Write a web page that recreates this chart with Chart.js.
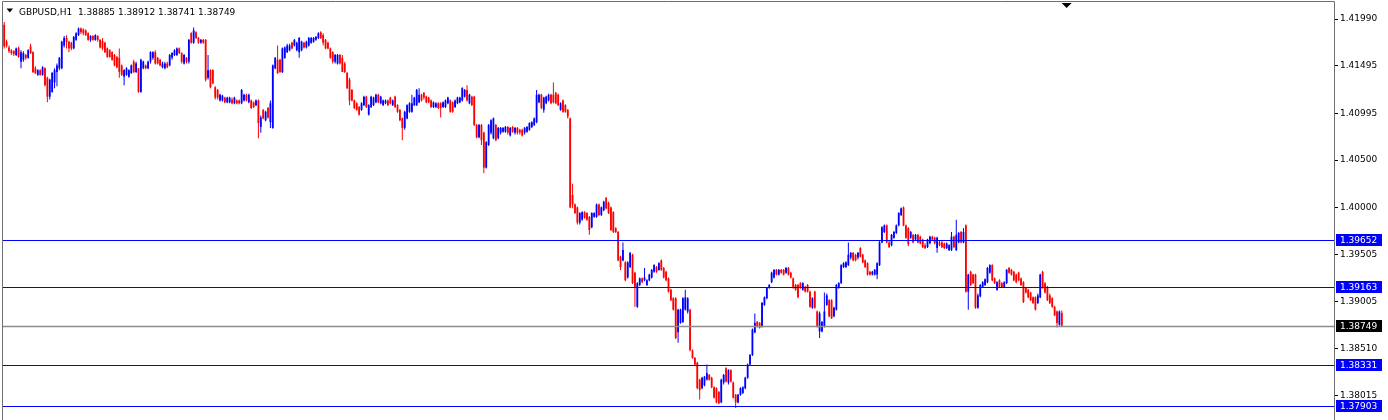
<!DOCTYPE html>
<html><head><meta charset="utf-8">
<script src="https://cdn.jsdelivr.net/npm/chart.js@4.4.0/dist/chart.umd.min.js"></script>
<style>html,body{margin:0;padding:0;background:#fff;overflow:hidden}#wrap{position:relative;width:1388px;height:420px}</style>
</head><body><div id="wrap"><canvas id="c"></canvas></div>
<script>
const symbol = 'GBPUSD,H1';
const opens = [
1.4193,1.4175,1.4169,1.4166,1.4165,1.4161,1.4168,1.4154,1.4156,1.4161,
1.4158,1.4170,1.4164,1.4147,1.4140,1.4145,1.4140,1.4147,1.4137,1.4117,
1.4122,1.4132,1.4143,1.4147,1.4147,1.4171,1.4179,1.4175,1.4174,1.4168,
1.4177,1.4182,1.4189,1.4188,1.4187,1.4184,1.4177,1.4181,1.4177,1.4181,
1.4177,1.4176,1.4174,1.4168,1.4166,1.4164,1.4161,1.4159,1.4158,1.4150,
1.4138,1.4140,1.4138,1.4142,1.4154,1.4143,1.4147,1.4122,1.4147,1.4150,
1.4147,1.4154,1.4158,1.4164,1.4158,1.4156,1.4148,1.4147,1.4152,1.4150,
1.4158,1.4161,1.4161,1.4168,1.4163,1.4152,1.4158,1.4154,1.4184,1.4174,
1.4185,1.4179,1.4174,1.4177,1.4177,1.4137,1.4145,1.4145,1.4127,1.4124,
1.4113,1.4113,1.4116,1.4111,1.4111,1.4114,1.4110,1.4113,1.4113,1.4110,
1.4113,1.4119,1.4111,1.4113,1.4111,1.4108,1.4113,1.4085,1.4103,1.4092,
1.4105,1.4090,1.4084,1.4147,1.4156,1.4156,1.4143,1.4158,1.4164,1.4166,
1.4174,1.4171,1.4166,1.4164,1.4166,1.4174,1.4169,1.4171,1.4174,
1.4175,1.4177,1.4179,1.4185,1.4182,1.4177,1.4174,1.4168,1.4164,1.4154,
1.4152,1.4161,1.4158,1.4152,1.4142,1.4135,1.4124,1.4113,1.4110,1.4106,
1.4103,1.4108,1.4117,1.4098,1.4106,1.4108,1.4111,1.4119,1.4110,1.4108,
1.4110,1.4113,1.4116,1.4108,1.4117,1.4108,1.4103,1.4094,1.4084,
1.4094,1.4101,1.4101,1.4108,1.4108,1.4111,1.4119,1.4121,1.4117,1.4116,
1.4113,1.4106,1.4106,1.4110,1.4110,1.4106,1.4106,1.4110,1.4113,
1.4111,1.4106,1.4110,1.4111,1.4113,1.4117,1.4124,1.4110,1.4117,1.4117,
1.4087,1.4074,1.4087,1.4079,1.4042,1.4066,1.4079,1.4073,1.4087,1.4073,
1.4079,1.4080,1.4080,1.4085,1.4076,1.4085,1.4079,1.4084,1.4082,
1.4082,1.4079,1.4080,1.4082,1.4085,1.4087,1.4090,1.4111,1.4119,
1.4103,1.4110,1.4113,1.4119,1.4119,1.4121,1.4119,1.4103,1.4113,
1.4108,1.4103,1.4094,1.4013,1.4003,1.4000,1.3984,1.3987,1.3995,1.3994,
1.3990,1.3979,1.3990,1.3990,1.4003,1.3992,1.3997,1.4010,1.4005,1.4000,
1.3995,1.3978,1.3974,1.3948,1.3944,1.3942,1.3926,1.3937,1.3950,
1.3931,1.3895,1.3918,1.3925,1.3923,1.3918,1.3923,1.3926,1.3932,
1.3937,1.3934,1.3944,1.3936,1.3932,1.3925,1.3913,1.3904,1.3904,
1.3868,1.3878,1.3879,1.3892,1.3890,1.3892,1.3849,1.3841,1.3836,
1.3818,1.3809,1.3812,1.3818,1.3823,1.3820,1.3810,1.3809,1.3805,1.3794,
1.3815,1.3830,1.3815,1.3828,1.3815,1.3802,1.3794,1.3802,1.3804,
1.3809,1.3820,1.3834,1.3844,1.3868,1.3879,1.3878,1.3874,1.3897,
1.3904,1.3915,1.3921,1.3926,1.3934,1.3929,1.3934,1.3934,1.3931,
1.3936,1.3931,1.3925,1.3918,1.3918,1.3920,1.3913,1.3916,1.3918,1.3911,
1.3894,1.3911,1.3890,1.3869,1.3869,1.3874,1.3897,1.3902,1.3902,1.3885,
1.3892,1.3915,1.3920,1.3937,1.3937,1.3939,1.3947,1.3952,1.3950,
1.3947,1.3957,1.3950,1.3944,1.3941,1.3932,1.3929,1.3929,1.3929,
1.3939,1.3963,1.3974,1.3981,1.3963,1.3960,1.3968,1.3973,1.3981,1.3992,
1.4000,1.3981,1.3978,1.3968,1.3971,1.3966,1.3971,1.3969,1.3966,1.3960,
1.3958,1.3962,1.3969,1.3968,1.3957,1.3963,1.3963,1.3962,1.3957,
1.3955,1.3955,1.3969,1.3955,1.3963,1.3974,1.3963,1.3981,1.3911,
1.3932,1.3929,1.3929,1.3894,1.3906,1.3916,1.3918,1.3921,1.3931,1.3939,
1.3925,1.3913,1.3923,1.3920,1.3916,1.3920,1.3936,1.3934,1.3932,
1.3929,1.3931,1.3925,1.3921,1.3915,1.3913,1.3910,1.3905,1.3905,
1.3899,1.3905,1.3932,1.3920,1.3916,1.3907,1.3904,1.3895,1.3890,1.3876,
1.38885];
const highs = [
1.4196,1.4177,1.4171,1.4167,1.4166,1.4169,1.4170,1.4166,1.4165,1.4162,
1.4167,1.4173,1.4165,1.4149,1.4146,1.4146,1.4149,1.4148,1.4138,1.4136,
1.4143,1.4147,1.4152,1.4159,1.4176,1.4181,1.4182,1.4176,1.4175,1.4181,
1.4185,1.4190,1.4190,1.4189,1.4188,1.4185,1.4182,1.4182,1.4183,1.4182,
1.4178,1.4179,1.4175,1.4169,1.4167,1.4165,1.4162,1.4160,1.4168,1.4151,
1.4146,1.4148,1.4146,1.4151,1.4156,1.4154,1.4147,1.4157,1.4155,1.4151,
1.4155,1.4165,1.4165,1.4166,1.4159,1.4157,1.4154,1.4154,1.4154,1.4162,
1.4164,1.4167,1.4169,1.4169,1.4164,1.4162,1.4159,1.4178,1.4185,1.4190,
1.4186,1.4180,1.4178,1.4178,1.4178,1.4161,1.4146,1.4146,1.4128,1.4125,
1.4120,1.4119,1.4117,1.4117,1.4117,1.4116,1.4117,1.4114,1.4114,1.4125,
1.4120,1.4120,1.4120,1.4114,1.4112,1.4114,1.4114,1.4097,1.4104,1.4102,
1.4106,1.4113,1.4151,1.4159,1.4171,1.4157,1.4169,1.4170,1.4173,1.4173,
1.4175,1.4178,1.4175,1.4180,1.4176,1.4175,1.4176,1.4180,1.4180,
1.4180,1.4181,1.4185,1.4186,1.4184,1.4178,1.4175,1.4169,1.4165,1.4162,
1.4162,1.4162,1.4161,1.4154,1.4143,1.4137,1.4125,1.4114,1.4111,1.4107,
1.4111,1.4118,1.4118,1.4109,1.4118,1.4117,1.4120,1.4120,1.4118,1.4114,
1.4114,1.4114,1.4117,1.4114,1.4118,1.4109,1.4104,1.4095,1.4102,
1.4109,1.4111,1.4119,1.4117,1.4125,1.4126,1.4120,1.4122,1.4118,1.4117,
1.4114,1.4112,1.4111,1.4111,1.4111,1.4112,1.4114,1.4117,1.4114,
1.4112,1.4114,1.4117,1.4117,1.4127,1.4125,1.4129,1.4120,1.4118,1.4118,
1.4088,1.4088,1.4088,1.4080,1.4070,1.4088,1.4093,1.4095,1.4088,1.4085,
1.4085,1.4085,1.4086,1.4086,1.4085,1.4086,1.4085,1.4085,1.4083,
1.4083,1.4085,1.4086,1.4090,1.4091,1.4095,1.4124,1.4120,1.4120,
1.4117,1.4118,1.4120,1.4120,1.4132,1.4122,1.4120,1.4111,1.4114,
1.4109,1.4104,1.4095,1.4025,1.4004,1.4001,1.3995,1.3996,1.3996,1.3995,
1.3991,1.3995,1.3995,1.4004,1.4004,1.4001,1.4007,1.4011,1.4006,1.4001,
1.3996,1.3979,1.3975,1.3949,1.3963,1.3943,1.3943,1.3953,1.3951,
1.3932,1.3921,1.3926,1.3926,1.3936,1.3924,1.3930,1.3935,1.3940,
1.3938,1.3942,1.3945,1.3937,1.3933,1.3926,1.3914,1.3905,1.3905,
1.3893,1.3893,1.3905,1.3913,1.3905,1.3893,1.3850,1.3842,1.3837,
1.3819,1.3821,1.3822,1.3834,1.3824,1.3821,1.3811,1.3810,1.3806,1.3819,
1.3824,1.3831,1.3829,1.3829,1.3816,1.3803,1.3803,1.3810,1.3811,
1.3821,1.3835,1.3845,1.3872,1.3888,1.3880,1.3879,1.3900,1.3906,
1.3916,1.3919,1.3932,1.3935,1.3935,1.3935,1.3935,1.3935,1.3937,
1.3937,1.3932,1.3926,1.3919,1.3919,1.3921,1.3921,1.3917,1.3919,1.3912,
1.3905,1.3912,1.3891,1.3890,1.3880,1.3910,1.3909,1.3903,1.3903,1.3895,
1.3919,1.3921,1.3940,1.3942,1.3943,1.3963,1.3953,1.3953,1.3951,
1.3953,1.3958,1.3951,1.3945,1.3942,1.3933,1.3933,1.3935,1.3942,
1.3965,1.3980,1.3982,1.3982,1.3965,1.3972,1.3975,1.3982,1.3995,1.4000,
1.4001,1.3982,1.3979,1.3975,1.3972,1.3972,1.3972,1.3970,1.3967,1.3962,
1.3967,1.3970,1.3970,1.3969,1.3969,1.3965,1.3965,1.3963,1.3963,
1.3961,1.3974,1.3970,1.3987,1.3974,1.3975,1.3978,1.3982,1.3930,
1.3933,1.3930,1.3930,1.3909,1.3919,1.3922,1.3925,1.3937,1.3940,1.3940,
1.3926,1.3922,1.3924,1.3921,1.3922,1.3935,1.3937,1.3935,1.3933,
1.3930,1.3932,1.3926,1.3922,1.3916,1.3914,1.3911,1.3906,1.3906,
1.3909,1.3930,1.3933,1.3921,1.3917,1.3909,1.3905,1.3896,1.3891,1.3891,
1.38912];
const lows = [
1.4168,1.4169,1.4163,1.4161,1.4160,1.4160,1.4158,1.4147,1.4154,1.4156,
1.4157,1.4162,1.4142,1.4141,1.4139,1.4139,1.4139,1.4128,1.4111,1.4114,
1.4121,1.4126,1.4128,1.4145,1.4146,1.4169,1.4168,1.4164,1.4166,1.4167,
1.4176,1.4181,1.4183,1.4182,1.4181,1.4176,1.4175,1.4176,1.4176,1.4175,
1.4168,1.4166,1.4163,1.4158,1.4158,1.4155,1.4149,1.4147,1.4137,1.4139,
1.4129,1.4139,1.4137,1.4141,1.4142,1.4142,1.4121,1.4121,1.4146,1.4146,
1.4146,1.4152,1.4156,1.4151,1.4151,1.4149,1.4147,1.4146,1.4147,1.4149,
1.4156,1.4160,1.4160,1.4162,1.4152,1.4151,1.4152,1.4152,1.4173,1.4173,
1.4178,1.4173,1.4173,1.4173,1.4133,1.4135,1.4126,1.4130,1.4114,1.4114,
1.4112,1.4112,1.4110,1.4110,1.4110,1.4109,1.4109,1.4109,1.4109,1.4109,
1.4112,1.4112,1.4110,1.4104,1.4105,1.4107,1.4073,1.4079,1.4093,1.4091,
1.4094,1.4084,1.4083,1.4146,1.4141,1.4142,1.4142,1.4157,1.4163,1.4165,
1.4167,1.4170,1.4165,1.4158,1.4165,1.4168,1.4168,1.4170,1.4173,
1.4174,1.4176,1.4178,1.4178,1.4171,1.4167,1.4167,1.4157,1.4152,1.4152,
1.4151,1.4151,1.4143,1.4142,1.4125,1.4108,1.4112,1.4104,1.4102,1.4097,
1.4102,1.4107,1.4105,1.4097,1.4105,1.4107,1.4110,1.4110,1.4109,1.4107,
1.4109,1.4107,1.4109,1.4107,1.4105,1.4100,1.4091,1.4071,1.4082,
1.4093,1.4100,1.4100,1.4107,1.4107,1.4110,1.4112,1.4114,1.4110,1.4110,
1.4105,1.4105,1.4105,1.4104,1.4095,1.4105,1.4105,1.4109,1.4100,
1.4100,1.4105,1.4109,1.4110,1.4112,1.4116,1.4112,1.4109,1.4107,1.4086,
1.4073,1.4073,1.4066,1.4036,1.4041,1.4065,1.4077,1.4072,1.4070,1.4072,
1.4077,1.4079,1.4079,1.4077,1.4075,1.4079,1.4077,1.4077,1.4077,
1.4075,1.4077,1.4079,1.4081,1.4084,1.4086,1.4089,1.4110,1.4104,
1.4100,1.4109,1.4112,1.4109,1.4110,1.4109,1.4107,1.4102,1.4100,
1.4100,1.4094,1.3999,1.3999,1.3993,1.3982,1.3982,1.3986,1.3988,1.3986,
1.3971,1.3978,1.3989,1.3989,1.3991,1.3991,1.3996,1.3998,1.3993,1.3975,
1.3973,1.3973,1.3943,1.3934,1.3943,1.3922,1.3925,1.3936,1.3919,
1.3895,1.3894,1.3917,1.3920,1.3922,1.3917,1.3922,1.3925,1.3931,
1.3931,1.3933,1.3933,1.3925,1.3922,1.3910,1.3901,1.3891,1.3861,
1.3857,1.3877,1.3878,1.3891,1.3888,1.3848,1.3840,1.3833,1.3808,
1.3797,1.3808,1.3811,1.3817,1.3817,1.3809,1.3798,1.3793,1.3792,1.3793,
1.3813,1.3815,1.3813,1.3815,1.3798,1.3788,1.3793,1.3801,1.3803,
1.3808,1.3819,1.3833,1.3843,1.3867,1.3873,1.3872,1.3873,1.3896,
1.3903,1.3914,1.3920,1.3925,1.3928,1.3928,1.3930,1.3928,1.3930,
1.3928,1.3925,1.3914,1.3912,1.3904,1.3914,1.3912,1.3910,1.3910,1.3894,
1.3893,1.3893,1.3873,1.3862,1.3868,1.3873,1.3896,1.3884,1.3882,1.3884,
1.3891,1.3914,1.3919,1.3936,1.3936,1.3938,1.3945,1.3943,1.3943,
1.3945,1.3947,1.3941,1.3936,1.3928,1.3928,1.3928,1.3928,1.3924,
1.3938,1.3962,1.3973,1.3962,1.3957,1.3959,1.3967,1.3972,1.3980,1.3991,
1.3980,1.3967,1.3959,1.3967,1.3962,1.3965,1.3962,1.3961,1.3957,1.3956,
1.3957,1.3961,1.3965,1.3961,1.3952,1.3959,1.3957,1.3956,1.3956,
1.3954,1.3954,1.3957,1.3954,1.3962,1.3962,1.3962,1.3910,1.3892,
1.3917,1.3919,1.3893,1.3893,1.3905,1.3915,1.3917,1.3920,1.3930,1.3922,
1.3919,1.3912,1.3915,1.3915,1.3915,1.3919,1.3930,1.3928,1.3922,
1.3920,1.3922,1.3917,1.3899,1.3909,1.3904,1.3901,1.3898,1.3891,
1.3898,1.3904,1.3914,1.3909,1.3901,1.3898,1.3894,1.3885,1.3873,1.3875,
1.38741];
const closes = [
1.4170,1.4171,1.4165,1.4163,1.4162,1.4168,1.4159,1.4164,1.4163,1.4158,
1.4166,1.4163,1.4143,1.4142,1.4145,1.4140,1.4148,1.4129,1.4117,1.4135,
1.4142,1.4145,1.4150,1.4158,1.4175,1.4179,1.4175,1.4168,1.4168,1.4180,
1.4184,1.4189,1.4185,1.4184,1.4182,1.4177,1.4181,1.4177,1.4182,1.4177,
1.4169,1.4168,1.4164,1.4159,1.4159,1.4156,1.4150,1.4148,1.4143,1.4140,
1.4145,1.4147,1.4145,1.4150,1.4143,1.4152,1.4122,1.4156,1.4154,1.4147,
1.4154,1.4164,1.4164,1.4152,1.4152,1.4150,1.4152,1.4152,1.4148,1.4161,
1.4163,1.4166,1.4168,1.4163,1.4154,1.4161,1.4154,1.4177,1.4174,1.4187,
1.4179,1.4174,1.4177,1.4174,1.4135,1.4145,1.4127,1.4131,1.4116,1.4116,
1.4119,1.4118,1.4111,1.4116,1.4116,1.4110,1.4116,1.4110,1.4110,1.4124,
1.4119,1.4113,1.4119,1.4105,1.4106,1.4113,1.4089,1.4095,1.4094,1.4101,
1.4095,1.4110,1.4150,1.4158,1.4142,1.4143,1.4168,1.4169,1.4171,1.4171,
1.4168,1.4177,1.4174,1.4179,1.4175,1.4169,1.4175,1.4179,1.4179,
1.4179,1.4180,1.4184,1.4179,1.4174,1.4168,1.4168,1.4158,1.4154,1.4161,
1.4161,1.4152,1.4143,1.4143,1.4126,1.4113,1.4113,1.4105,1.4103,1.4098,
1.4110,1.4117,1.4106,1.4108,1.4117,1.4116,1.4119,1.4111,1.4117,1.4113,
1.4113,1.4108,1.4110,1.4113,1.4106,1.4101,1.4092,1.4084,1.4101,
1.4108,1.4110,1.4110,1.4116,1.4124,1.4119,1.4113,1.4116,1.4111,1.4111,
1.4106,1.4111,1.4110,1.4105,1.4105,1.4111,1.4113,1.4116,1.4101,
1.4101,1.4113,1.4116,1.4116,1.4126,1.4124,1.4113,1.4119,1.4108,1.4087,
1.4074,1.4087,1.4071,1.4042,1.4069,1.4087,1.4092,1.4094,1.4071,1.4084,
1.4084,1.4084,1.4085,1.4079,1.4084,1.4080,1.4084,1.4079,1.4079,
1.4076,1.4084,1.4085,1.4089,1.4090,1.4094,1.4119,1.4119,1.4105,
1.4116,1.4117,1.4119,1.4110,1.4111,1.4110,1.4108,1.4110,1.4101,
1.4101,1.4096,1.4000,1.4003,1.3994,1.3984,1.3994,1.3995,1.3989,1.3987,
1.3976,1.3994,1.3994,1.4003,1.3992,1.4000,1.4006,1.3999,1.3994,1.3976,
1.3974,1.3974,1.3944,1.3937,1.3955,1.3923,1.3942,1.3952,1.3920,
1.3916,1.3920,1.3925,1.3921,1.3926,1.3923,1.3929,1.3934,1.3939,
1.3932,1.3941,1.3934,1.3926,1.3923,1.3911,1.3902,1.3892,1.3862,
1.3892,1.3892,1.3904,1.3905,1.3904,1.3849,1.3841,1.3834,1.3809,
1.3807,1.3820,1.3821,1.3825,1.3818,1.3810,1.3799,1.3794,1.3793,1.3818,
1.3823,1.3816,1.3828,1.3816,1.3799,1.3794,1.3802,1.3809,1.3810,
1.3820,1.3834,1.3844,1.3871,1.3878,1.3874,1.3873,1.3899,1.3905,
1.3915,1.3918,1.3931,1.3934,1.3929,1.3934,1.3931,1.3929,1.3936,
1.3929,1.3926,1.3915,1.3913,1.3905,1.3915,1.3920,1.3911,1.3911,1.3895,
1.3904,1.3894,1.3874,1.3888,1.3879,1.3890,1.3907,1.3885,1.3883,1.3894,
1.3918,1.3920,1.3939,1.3941,1.3942,1.3950,1.3952,1.3944,1.3944,
1.3952,1.3948,1.3942,1.3937,1.3929,1.3929,1.3932,1.3934,1.3941,
1.3963,1.3979,1.3981,1.3963,1.3958,1.3971,1.3974,1.3981,1.3994,1.3999,
1.3981,1.3968,1.3961,1.3974,1.3963,1.3971,1.3963,1.3962,1.3958,1.3957,
1.3966,1.3969,1.3966,1.3962,1.3968,1.3960,1.3958,1.3957,1.3962,
1.3960,1.3969,1.3958,1.3971,1.3973,1.3963,1.3974,1.3911,1.3929,
1.3918,1.3920,1.3894,1.3907,1.3918,1.3921,1.3924,1.3936,1.3939,1.3923,
1.3920,1.3921,1.3916,1.3916,1.3921,1.3934,1.3931,1.3929,1.3923,
1.3921,1.3923,1.3918,1.3900,1.3910,1.3905,1.3902,1.3899,1.3892,
1.3907,1.3929,1.3915,1.3910,1.3902,1.3899,1.3895,1.3886,1.3878,1.3890,
1.38749];
const yTicks = [1.41990,1.41495,1.40995,1.40500,1.40000,1.39505,1.39005,1.38510,1.38015];
const levels = [1.39652,1.39163,1.38331,1.37903];
const yMin = 1.37754, yMax = 1.42170;
const totalSlots = 555;

const n = Math.min(opens.length, highs.length, lows.length, closes.length);
const labels = Array.from({length: totalSlots}, (_, i) => String(i));
const BULL = '#0000ff', BEAR = '#ff0000';
const bodyData = [], wickData = [], colors = [];
for (let i = 0; i < n; i++) {
  bodyData.push([opens[i], closes[i]]);
  wickData.push([lows[i], highs[i]]);
  colors.push(closes[i] >= opens[i] ? BULL : BEAR);
}
const FONT = '9px "DejaVu Sans"';
const last = n - 1;

const mt4 = {
  id: 'mt4',
  afterDatasetsDraw(chart) {
    const ctx = chart.ctx, a = chart.chartArea, y = chart.scales.y;
    ctx.save();
    ctx.lineWidth = 1.2;
    ctx.strokeStyle = '#0000ff';
    levels.forEach(v => {
      const py = Math.round(y.getPixelForValue(v)) + 0.5;
      ctx.beginPath(); ctx.moveTo(a.left - 1, py); ctx.lineTo(a.right, py); ctx.stroke();
    });
    ctx.strokeStyle = '#8c8c8c';
    ctx.lineWidth = 1.3;
    const by = Math.round(y.getPixelForValue(closes[last])) + 0.5;
    ctx.beginPath(); ctx.moveTo(a.left - 1, by); ctx.lineTo(a.right, by); ctx.stroke();
    ctx.restore();
  },
  afterDraw(chart) {
    const ctx = chart.ctx, a = chart.chartArea, y = chart.scales.y;
    ctx.save();
    ctx.strokeStyle = '#6e6e6e';
    ctx.lineWidth = 1;
    ctx.beginPath();
    ctx.moveTo(2.5, chart.height); ctx.lineTo(2.5, 1.5); ctx.lineTo(a.right + 0.5, 1.5); ctx.lineTo(a.right + 0.5, chart.height);
    ctx.stroke();
    ctx.font = FONT;
    ctx.textBaseline = 'middle';
    ctx.textAlign = 'left';
    const box = (v, bg) => {
      const py = Math.round(y.getPixelForValue(v));
      ctx.fillStyle = bg;
      ctx.fillRect(a.right + 2, py - 6, 46, 12);
      ctx.fillStyle = '#ffffff';
      ctx.fillText(v.toFixed(5), a.right + 6, py + 0.5);
    };
    levels.forEach(v => box(v, '#0000ff'));
    box(closes[last], '#000000');
    ctx.fillStyle = '#000';
    ctx.beginPath(); ctx.moveTo(6.5, 8.5); ctx.lineTo(13, 8.5); ctx.lineTo(9.75, 12.5); ctx.closePath(); ctx.fill();
    ctx.textBaseline = 'alphabetic';
    const hdr = symbol + '  ' + [opens[last], highs[last], lows[last], closes[last]].map(v => v.toFixed(5)).join(' ');
    ctx.fillText(hdr, 19, 14.5);
    const sx = chart.scales.x.getPixelForValue(last + 2);
    ctx.beginPath(); ctx.moveTo(sx - 5, 3); ctx.lineTo(sx + 5, 3); ctx.lineTo(sx, 8); ctx.closePath(); ctx.fill();
    ctx.restore();
  }
};

new Chart(document.getElementById('c'), {
  type: 'bar',
  data: {
    labels,
    datasets: [
      { label: 'wick', data: wickData, backgroundColor: colors, barThickness: 1, grouped: false, order: 2, inflateAmount: 0 },
      { label: 'body', data: bodyData, backgroundColor: colors, barThickness: 1.8, grouped: false, order: 1, minBarLength: 1, inflateAmount: 0 }
    ]
  },
  options: {
    responsive: true,
    maintainAspectRatio: false,
    animation: false,
    devicePixelRatio: 1,
    layout: { padding: { left: 3, top: 2, right: 0, bottom: 0 } },
    plugins: { legend: { display: false }, tooltip: { enabled: false } },
    scales: {
      x: { type: 'category', display: false, offset: true, grid: { display: false } },
      y: {
        position: 'right', min: yMin, max: yMax,
        afterBuildTicks: s => { s.ticks = yTicks.map(v => ({ value: v })); },
        afterFit: s => { s.width = 54; s.paddingTop = 0; s.paddingBottom = 0; },
        grid: { display: true, drawOnChartArea: false, drawTicks: true, tickLength: 4, tickColor: '#000', color: '#000' },
        border: { display: false },
        ticks: { autoSkip: false, padding: 2, color: '#000', font: { family: 'DejaVu Sans', size: 9 }, callback: v => Number(v).toFixed(5) }
      }
    }
  },
  plugins: [mt4]
});
</script>
</body></html>
